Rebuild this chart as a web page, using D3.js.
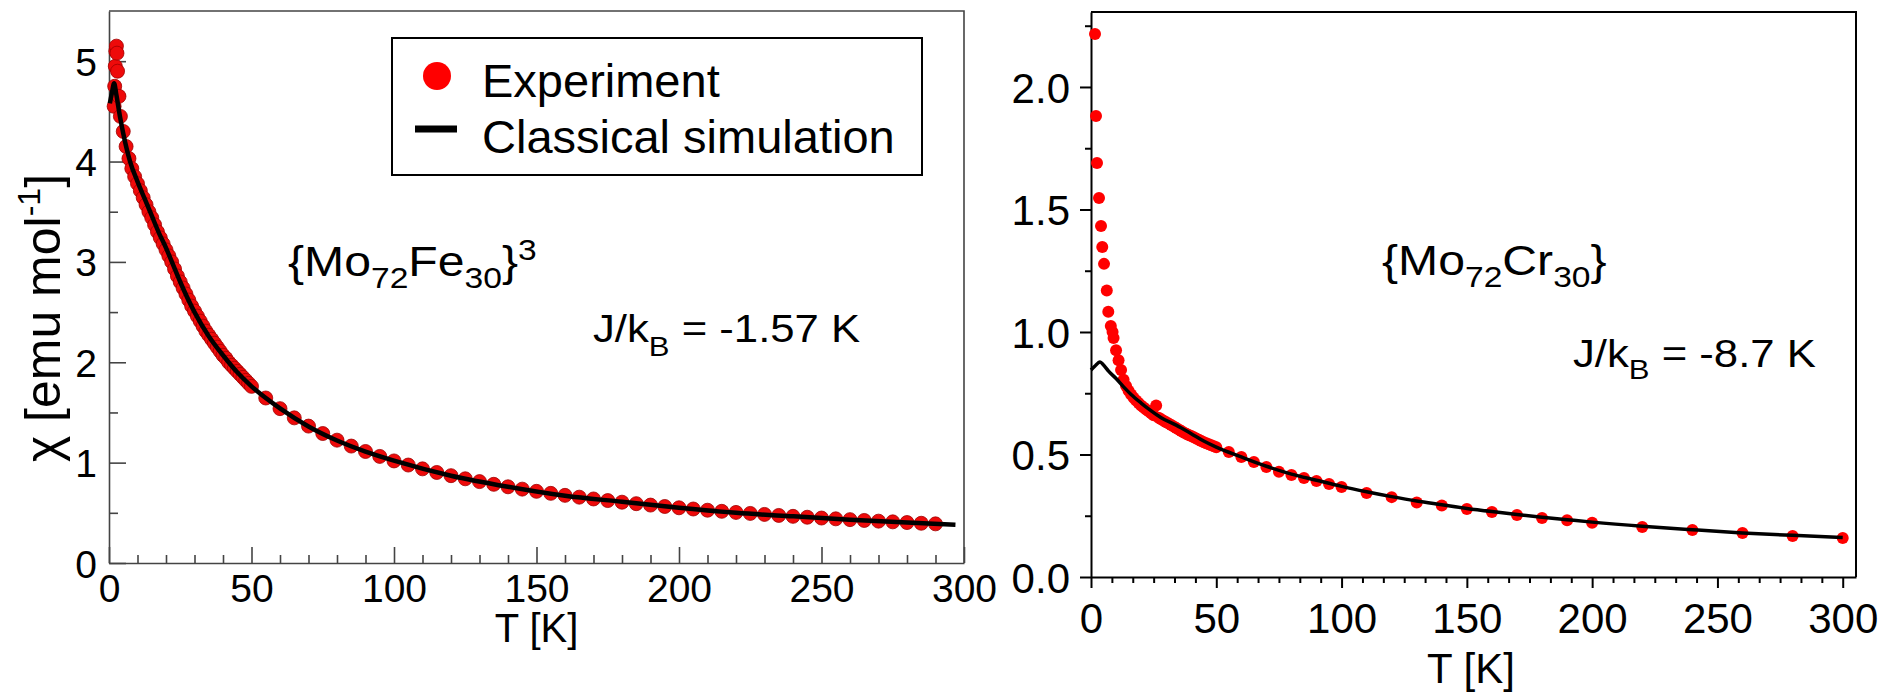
<!DOCTYPE html>
<html><head><meta charset="utf-8">
<script src="https://cdn.jsdelivr.net/npm/d3@7"></script>
<style>
html,body{margin:0;padding:0;background:#fff;}
svg{display:block;font-family:"Liberation Sans",Arial,Helvetica,sans-serif;}
text{white-space:pre;}
</style></head>
<body>
<svg id="chart" width="1890" height="696"></svg>
<script>
// ---------- DATA ----------
// Left panel {Mo72Fe30}: experiment
const expFeT = [1.8,2.0,2.2,2.4,2.6,2.8,3.0,3.5,4,5,6,7,8,9,10,11,12,13,14,15,16,17,18,19,20,21,22,23,24,25,26,27,28,29,30,31,32,33,34,35,36,37,38,39,40,41,42,43,44,45,46,47,48,49,50,
  55,60,65,70,75,80,85,90,95,100,105,110,115,120,125,130,135,140,145,150,155,160,165,170,175,180,185,190,195,200,205,210,215,220,225,230,235,240,245,250,255,260,265,270,275,280,285,290];
const expFeChi = [4.55,4.75,4.95,5.10,5.15,5.08,4.90,4.65,4.45,4.30,4.15,4.03,3.93,3.85,3.78,3.71,3.64,3.57,3.50,3.44,3.37,3.30,3.24,3.18,3.12,3.06,3.00,2.93,2.86,2.80,2.74,2.68,2.62,2.56,2.51,2.46,2.41,2.36,2.31,2.27,2.23,2.19,2.15,2.11,2.07,2.04,2.00,1.97,1.94,1.91,1.88,1.85,1.82,1.79,1.76,
  1.644,1.538,1.446,1.364,1.290,1.224,1.165,1.111,1.062,1.017,0.976,0.938,0.902,0.870,0.839,0.811,0.784,0.759,0.736,0.714,0.694,0.674,0.656,0.638,0.622,0.606,0.591,0.577,0.563,0.550,0.538,0.526,0.515,0.504,0.494,0.484,0.474,0.465,0.456,0.448,0.440,0.432,0.424,0.417,0.410,0.403,0.396,0.390];
// Left panel: classical simulation
const simFeT = [0.3,1.0,1.8,2.5,3.9,5,7.4,10,12.5,15,17.5,20,22.5,25,30,35,40,45,50,60,70,80,90,100,120,140,160,180,200,220,240,260,280,297];
const simFeChi = [4.58,4.68,4.78,4.68,4.44,4.28,4.00,3.80,3.63,3.46,3.29,3.14,2.97,2.80,2.50,2.26,2.07,1.90,1.76,1.54,1.36,1.22,1.11,1.02,0.87,0.76,0.67,0.61,0.55,0.50,0.465,0.432,0.403,0.381];

// Right panel {Mo72Cr30}: experiment
const expCrT = [1.6,2.0,2.4,3.2,4.0,4.5,5.2,6.3,6.9,7.9,8.6,9,10,11,12,13,14,15,16,17,18,19,20,21,22,23,24,25,26,27,28,29,30,31,32,33,34,35,36,37,38,39,40,41,42,43,44,45,46,47,48,49,50,
  55,60,65,70,75,80,85,90,95,100,110,120,130,140,150,160,170,180,190,200,220,240,260,280,300];
const expCrChi = [2.216,1.882,1.69,1.547,1.433,1.347,1.278,1.169,1.083,1.024,1.0,0.975,0.925,0.885,0.845,0.805,0.78,0.76,0.745,0.732,0.72,0.71,0.70,0.692,0.684,0.676,0.668,0.66,0.70,0.65,0.644,0.638,0.632,0.626,0.62,0.614,0.608,0.602,0.596,0.59,0.585,0.58,0.575,0.57,0.565,0.56,0.555,0.55,0.546,0.542,0.538,0.534,0.53,
  0.51,0.49,0.469,0.449,0.43,0.416,0.404,0.392,0.38,0.367,0.343,0.326,0.304,0.292,0.278,0.265,0.253,0.241,0.232,0.221,0.204,0.192,0.18,0.167,0.159];
// Right panel: classical simulation
const simCrT = [0,1.5,3.6,5,7,10,13,16,20,23.5,28,34,40,45,50,60,70,80,90,100,110,120,130,140,150,160,170,180,190,200,220,240,260,280,300];
const simCrChi = [0.845,0.86,0.878,0.865,0.84,0.81,0.776,0.745,0.71,0.682,0.65,0.62,0.585,0.555,0.53,0.49,0.452,0.42,0.395,0.37,0.348,0.328,0.31,0.295,0.28,0.267,0.255,0.244,0.234,0.224,0.207,0.193,0.18,0.17,0.161];

// Ticks and labels
const xMajor = [0,50,100,150,200,250,300];
const yMajorFe = [0,1,2,3,4,5];
const yMinorFe = [0.5,1.5,2.5,3.5,4.5];
const yMajorCr = [0,0.5,1.0,1.5,2.0];
const yMinorCr = [0.25,0.75,1.25,1.75,2.25];
const legendLabels = ["Experiment","Classical simulation"];

// ---------- DRAW ----------
const svg = d3.select("#chart");
const FONT = '"Liberation Sans",Arial,Helvetica,sans-serif';
const zip = (a,b) => a.map((v,i)=>[v,b[i]]);

// ===== Left panel =====
const xL = d3.scaleLinear().domain([0,300]).range([109,964]);
const yL = d3.scaleLinear().domain([0,5.5]).range([563,11]);
const gL = svg.append("g");
const axCol = "#444";

gL.append("path").attr("d",`M${xL(0)},${yL(5.5)}H${xL(300)}V${yL(0)}`).attr("fill","none").attr("stroke",axCol).attr("stroke-width",1.6);

const xLMinor = d3.range(10,300,10).filter(v=>v%50!==0);
gL.append("g").attr("transform",`translate(0,${yL(0)})`)
  .call(d3.axisBottom(xL).tickValues(xLMinor).tickSizeInner(-8).tickSizeOuter(0).tickFormat(""))
  .call(g=>{g.select(".domain").remove(); g.selectAll("line").attr("stroke",axCol).attr("stroke-width",1.6);});
gL.append("g").attr("transform",`translate(0,${yL(0)})`)
  .call(d3.axisBottom(xL).tickValues(xMajor).tickSizeInner(-16).tickSizeOuter(0).tickPadding(11).tickFormat(d3.format("d")))
  .call(g=>{g.select(".domain").attr("stroke",axCol).attr("stroke-width",1.6);
    g.selectAll("line").attr("stroke",axCol).attr("stroke-width",1.6);
    g.selectAll("text").attr("font-size",39).attr("font-family",FONT).attr("fill","#000");});
gL.append("g").attr("transform",`translate(${xL(0)},0)`)
  .call(d3.axisLeft(yL).tickValues(yMinorFe).tickSizeInner(-9).tickSizeOuter(0).tickFormat(""))
  .call(g=>{g.select(".domain").remove(); g.selectAll("line").attr("stroke",axCol).attr("stroke-width",1.6);});
gL.append("g").attr("transform",`translate(${xL(0)},0)`)
  .call(d3.axisLeft(yL).tickValues(yMajorFe).tickSizeInner(-17).tickSizeOuter(0).tickPadding(12).tickFormat(d3.format("d")))
  .call(g=>{g.select(".domain").attr("stroke",axCol).attr("stroke-width",1.6);
    g.selectAll("line").attr("stroke",axCol).attr("stroke-width",1.6);
    g.selectAll("text").attr("font-size",39).attr("font-family",FONT).attr("fill","#000").attr("dy","0.36em");});

// data
gL.append("g").selectAll("circle").data(zip(expFeT,expFeChi)).join("circle")
  .attr("cx",d=>xL(d[0])).attr("cy",d=>yL(d[1])).attr("r",7)
  .attr("fill","#ee0a0a").attr("stroke","#a00000").attr("stroke-width",0.8);
gL.append("path").datum(zip(simFeT,simFeChi))
  .attr("d",d3.line().x(d=>xL(d[0])).y(d=>yL(d[1])).curve(d3.curveMonotoneX))
  .attr("fill","none").attr("stroke","#000").attr("stroke-width",4.5).attr("stroke-linejoin","round");

// axis titles
gL.append("text").attr("x",(xL(0)+xL(300))/2).attr("y",642).attr("text-anchor","middle")
  .attr("font-size",40).text("T [K]");
const yt = gL.append("text").attr("transform","translate(60,318) rotate(-90)").attr("text-anchor","middle").attr("font-size",50);
yt.append("tspan").text("χ [emu mol");
yt.append("tspan").attr("font-size",32).attr("dy",-20).text("-1");
yt.append("tspan").attr("dy",20).text("]");

// annotations
function chem(x,y,parts){
  const t = svg.append("text").attr("transform",`translate(${x},${y}) scale(1.12,1)`).attr("font-size",43);
  let shift = 0;
  parts.forEach(p=>{
    const s = t.append("tspan").text(p[0]);
    const target = p[1]==="sub"?12:(p[1]==="sup"?-16:0);
    if(p[1]!=="n") s.attr("font-size",30);
    s.attr("dy",target-shift); shift=target;
  });
  return t;
}
chem(288,276,[["{Mo","n"],["72","sub"],["Fe","n"],["30","sub"],["}","n"],["3","sup"]]);
function jk(x,y,val,sub){
  const t = svg.append("text").attr("transform",`translate(${x},${y}) scale(1.15,1)`).attr("font-size",38);
  t.append("tspan").text("J/k");
  t.append("tspan").attr("font-size",27).attr("dy",sub).text("B");
  t.append("tspan").attr("dy",-sub).text(" = "+val+" K");
}
jk(593,342,"-1.57",14);

// legend
const lg = svg.append("g");
lg.append("rect").attr("x",392).attr("y",38).attr("width",530).attr("height",137)
  .attr("fill","#fff").attr("stroke","#000").attr("stroke-width",2);
lg.append("circle").attr("cx",437).attr("cy",76).attr("r",14).attr("fill","#ff0000");
lg.append("line").attr("x1",415).attr("x2",457).attr("y1",129).attr("y2",129).attr("stroke","#000").attr("stroke-width",7);
lg.append("text").attr("x",482).attr("y",97).attr("font-size",47).text(legendLabels[0]);
lg.append("text").attr("x",482).attr("y",153).attr("font-size",47).text(legendLabels[1]);

// ===== Right panel =====
const xR = d3.scaleLinear().domain([0,305.3]).range([1091,1856]);
const yR = d3.scaleLinear().domain([0,2.306]).range([577,12]);
const gR = svg.append("g");
gR.append("path").attr("d",`M${xR(0)},${yR(2.306)}H${xR(305.3)}V${yR(0)}`).attr("fill","none").attr("stroke","#000").attr("stroke-width",2);

const xRMinor = d3.range(0,301,50/6).filter(v=>Math.abs(v/50-Math.round(v/50))>0.01);
gR.append("g").attr("transform",`translate(0,${yR(0)})`)
  .call(d3.axisBottom(xR).tickValues(xRMinor).tickSizeInner(6).tickSizeOuter(0).tickFormat(""))
  .call(g=>{g.select(".domain").remove(); g.selectAll("line").attr("stroke","#000").attr("stroke-width",2);});
gR.append("g").attr("transform",`translate(0,${yR(0)})`)
  .call(d3.axisBottom(xR).tickValues(xMajor).tickSizeInner(11).tickSizeOuter(0).tickPadding(15).tickFormat(d3.format("d")))
  .call(g=>{g.select(".domain").attr("stroke","#000").attr("stroke-width",2);
    g.selectAll("line").attr("stroke","#000").attr("stroke-width",2);
    g.selectAll("text").attr("font-size",42).attr("font-family",FONT).attr("fill","#000");});
gR.append("g").attr("transform",`translate(${xR(0)},0)`)
  .call(d3.axisLeft(yR).tickValues(yMinorCr).tickSizeInner(6).tickSizeOuter(0).tickFormat(""))
  .call(g=>{g.select(".domain").remove(); g.selectAll("line").attr("stroke","#000").attr("stroke-width",2);});
gR.append("g").attr("transform",`translate(${xR(0)},0)`)
  .call(d3.axisLeft(yR).tickValues(yMajorCr).tickSizeInner(11).tickSizeOuter(0).tickPadding(10).tickFormat(d3.format(".1f")))
  .call(g=>{g.select(".domain").attr("stroke","#000").attr("stroke-width",2);
    g.selectAll("line").attr("stroke","#000").attr("stroke-width",2);
    g.selectAll("text").attr("font-size",42).attr("font-family",FONT).attr("fill","#000").attr("dy","0.36em");});

gR.append("g").selectAll("circle").data(zip(expCrT,expCrChi)).join("circle")
  .attr("cx",d=>xR(d[0])).attr("cy",d=>yR(d[1])).attr("r",6).attr("fill","#ff0000");
gR.append("path").datum(zip(simCrT,simCrChi))
  .attr("d",d3.line().x(d=>xR(d[0])).y(d=>yR(d[1])).curve(d3.curveMonotoneX))
  .attr("fill","none").attr("stroke","#000").attr("stroke-width",3.5).attr("stroke-linejoin","round");

gR.append("text").attr("x",1471).attr("y",683).attr("text-anchor","middle").attr("font-size",42).text("T [K]");
chem(1382,275,[["{Mo","n"],["72","sub"],["Cr","n"],["30","sub"],["}","n"]]);
jk(1573,367,"-8.7",12);
</script>
</body></html>
